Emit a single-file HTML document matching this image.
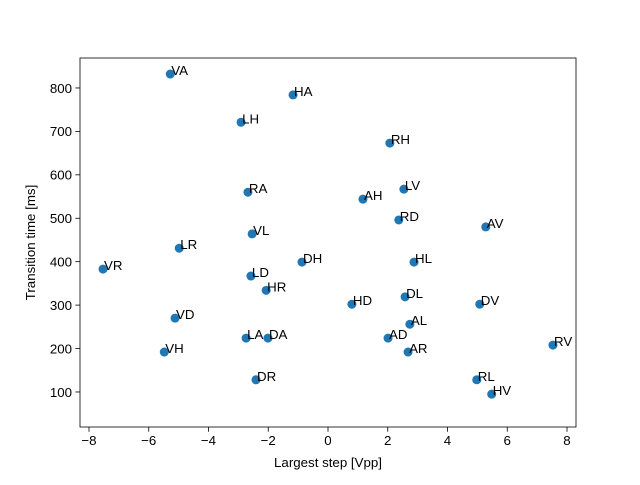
<!DOCTYPE html>
<html><head><meta charset="utf-8"><style>
body{margin:0;background:#fff;}
svg{font-family:"Liberation Sans","DejaVu Sans",sans-serif;}
</style></head><body>
<svg id="chart" width="640" height="480"></svg>
<script>
const labels=["VA","HA","LH","RH","RA","AH","LV","RD","AV","VL","LR","VR","DH","HL","LD","HR","HD","DL","DV","VD","AL","LA","DA","AD","RV","VH","AR","DR","RL","HV"];
const xValues=[-5.28,-1.17,-2.91,2.07,-2.68,1.17,2.54,2.37,5.28,-2.54,-4.98,-7.53,-0.87,2.88,-2.58,-2.07,0.80,2.58,5.08,-5.12,2.74,-2.74,-2.01,2.01,7.53,-5.48,2.68,-2.41,4.98,5.48];
const yValues=[832,784,721,673,560,544,567,496,480,464,431,383,399,399,367,334,302,319,302,270,256,224,224,224,208,192,192,128,128,95];
const xTicks=[-8,-6,-4,-2,0,2,4,6,8];
const yTicks=[100,200,300,400,500,600,700,800];
const L=80,R=576,T=58,B=427;
const xs=v=>328+v*29.875;
const ys=v=>435.4-v*0.4343;
const NS="http://www.w3.org/2000/svg";
const svg=document.getElementById('chart');
function mk(t,a,txt){const e=document.createElementNS(NS,t);for(const k in a)e.setAttribute(k,a[k]);if(txt!==undefined)e.textContent=txt;svg.appendChild(e);return e;}
const frame=mk('rect',{x:L,y:T,width:R-L,height:B-T,fill:'none',stroke:'#000','stroke-width':0.8});


xTicks.forEach(t=>{
 const x=xs(t);
 const l=mk('line',{x1:x,x2:x,y1:B,y2:B+4.7,stroke:'#000','stroke-width':0.8});
 
 
 const tx=mk('text',{x:x,y:B+18,'font-size':13.3,'text-anchor':'middle'},(t<0?'\u2212'+(-t):t));
 
 
});
yTicks.forEach(t=>{
 const y=ys(t);
 const l=mk('line',{x1:L-4.7,x2:L,y1:y,y2:y,stroke:'#000','stroke-width':0.8});
 
 
 const tx=mk('text',{x:L-8,y:y+4.8,'font-size':13.3,'text-anchor':'end'},t);
 
 
});
const xt=mk('text',{x:(L+R)/2,y:467,'font-size':13.3,'text-anchor':'middle'},'Largest step [Vpp]');


const yt=mk('text',{x:0,y:0,'font-size':13.3,'text-anchor':'middle',transform:'translate(35,'+((T+B)/2)+') rotate(-90)'},'Transition time [ms]');


labels.forEach((lb,i)=>{
 const cx=xs(xValues[i]),cy=ys(yValues[i]);
 const c=mk('circle',{cx:cx,cy:cy,r:4.5,fill:'#1f77b4'});
 
 
 const t=mk('text',{x:cx+1,y:cy+1,'font-size':13.3},lb);
 
 
});
</script>
</body></html>
